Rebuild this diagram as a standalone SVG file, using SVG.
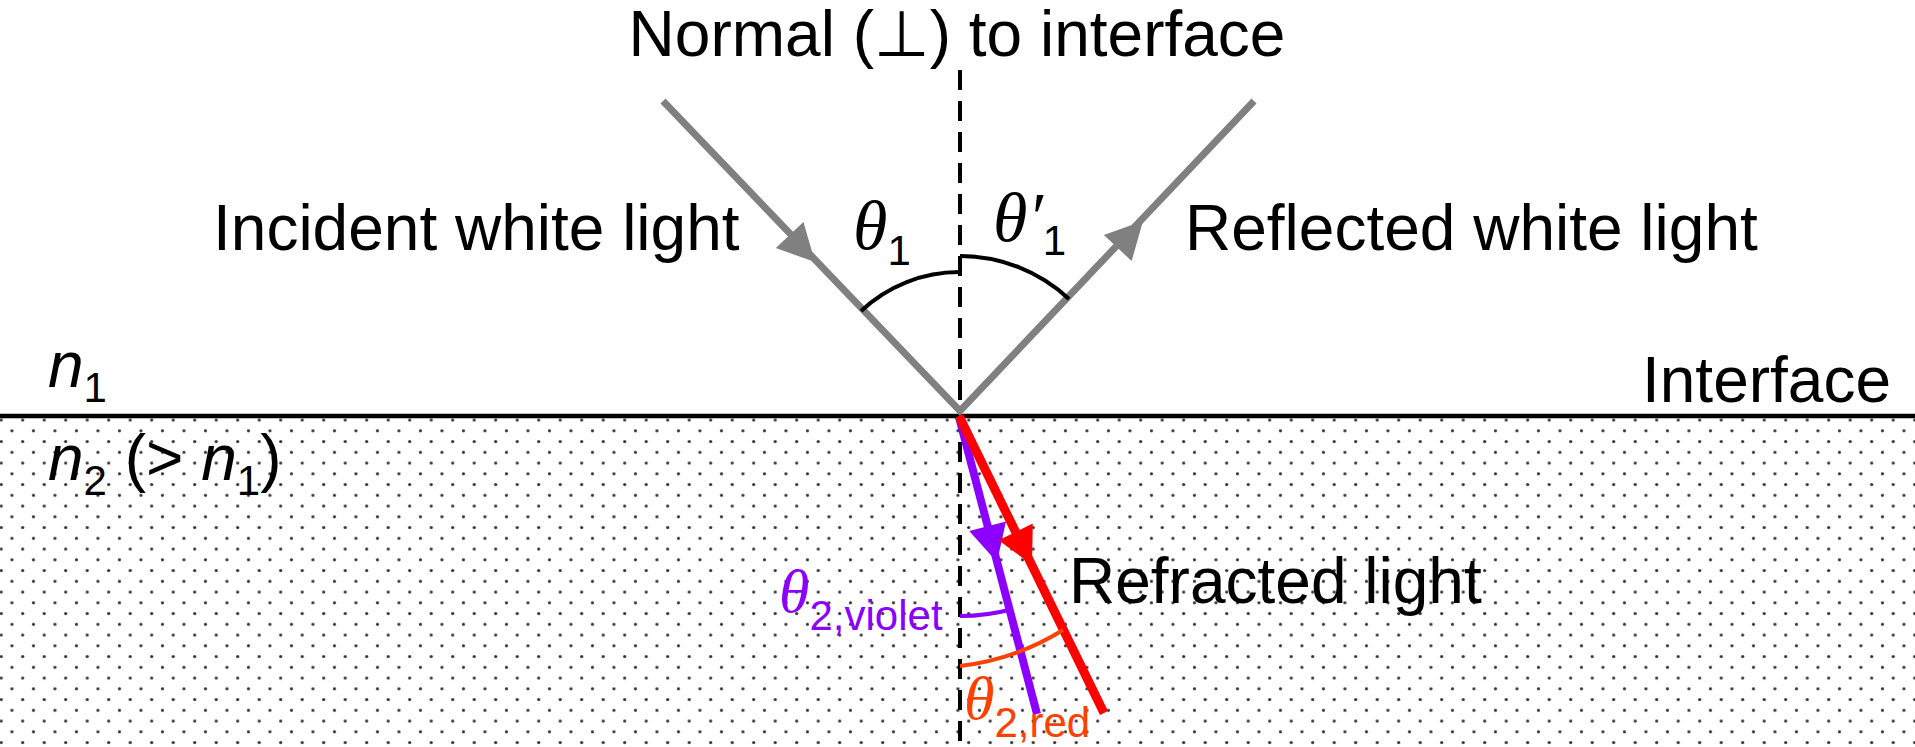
<svg xmlns="http://www.w3.org/2000/svg" width="1915" height="747" viewBox="0 0 1915 747">
<style>
.lbl{font-family:"Liberation Sans","DejaVu Sans",sans-serif;font-size:64px;fill:#000}
.it{font-style:italic}
.th{font-family:"Liberation Serif","DejaVu Serif",serif;font-style:italic}
.sub{font-size:42px}
.ray{fill:none;stroke-linecap:butt}
</style>
<defs>
<pattern id="dots" patternUnits="userSpaceOnUse" x="-4.2" y="414.6" width="21.5" height="21.5">
<circle cx="5.4" cy="5.4" r="1.6" fill="#333"/>
<circle cx="16.15" cy="16.15" r="1.6" fill="#333"/>
</pattern>
<path id="ah" d="M0,0 L-37,-19 L-37,19 Z"/>
</defs>
<rect x="0" y="0" width="1915" height="747" fill="#fff"/>
<g id="medium2">
<rect x="0" y="418" width="1915" height="329" fill="url(#dots)"/>
</g>
<g id="interface">
<line x1="0" y1="416" x2="1915" y2="416" stroke="#000" stroke-width="4.5"/>
</g>
<g id="normal">
<line x1="960" y1="70" x2="960" y2="747" stroke="#000" stroke-width="4" stroke-dasharray="20 11"/>
</g>
<g id="connectors">
<polyline class="ray" points="663,101 960,411 1254,101" stroke="#808080" stroke-width="7" stroke-linejoin="miter"/>
<use href="#ah" fill="#808080" transform="translate(815,262) rotate(46.7)"/>
<use href="#ah" fill="#808080" transform="translate(1143,221) rotate(-47)"/>
<line class="ray" x1="959" y1="417" x2="1037" y2="714" stroke="#8B00FF" stroke-width="8"/>
<use href="#ah" fill="#8B00FF" transform="translate(997,562) rotate(75.3)"/>
<line class="ray" x1="959" y1="416" x2="1104" y2="713" stroke="#FF0000" stroke-width="9"/>
<use href="#ah" fill="#FF0000" transform="translate(1032,565) rotate(63.9)"/>
</g>
<g id="angles">
<path d="M861,311 A144,144 0 0 1 960,272" fill="none" stroke="#000" stroke-width="4"/>
<path d="M960,256 A160,160 0 0 1 1069,299" fill="none" stroke="#000" stroke-width="4"/>
<path d="M960,616 A200,200 0 0 0 1011,609.5" fill="none" stroke="#8B00FF" stroke-width="4"/>
<path d="M960,666 A250,250 0 0 0 1063,630" fill="none" stroke="#FF4000" stroke-width="4"/>
</g>
<g id="title">
<text class="lbl" x="957" y="56" text-anchor="middle">Normal (⊥) to interface</text>
</g>
<g id="incident-label">
<text class="lbl" x="213" y="250">Incident white light</text>
</g>
<g id="reflected-label">
<text class="lbl" x="1185" y="250">Reflected white light</text>
</g>
<g id="refracted-label">
<text class="lbl" x="1069" y="603">Refracted light</text>
</g>
<g id="interface-label">
<text class="lbl" x="1891" y="402" text-anchor="end">Interface</text>
</g>
<g id="n1-label">
<text class="lbl" x="48" y="387"><tspan class="it">n</tspan><tspan class="sub" dy="15">1</tspan></text>
</g>
<g id="n2-label">
<text class="lbl" x="48" y="480"><tspan class="it">n</tspan><tspan class="sub" dy="15">2</tspan><tspan dy="-15"> (&gt; </tspan><tspan class="it">n</tspan><tspan class="sub" dy="15">1</tspan><tspan dy="-15">)</tspan></text>
</g>
<g id="theta1-label">
<text class="lbl" x="853" y="249"><tspan class="th" font-size="70">θ</tspan><tspan class="sub" dy="16">1</tspan></text>
</g>
<g id="theta1p-label">
<text class="lbl" x="993" y="241"><tspan class="th" font-size="70">θ′</tspan><tspan class="sub" dy="14">1</tspan></text>
</g>
<g id="theta2v-label">
<text class="lbl" x="779" y="612" style="fill:#8B00FF"><tspan class="th" font-size="62">θ</tspan><tspan class="sub" dy="18">2,violet</tspan></text>
</g>
<g id="theta2r-label">
<text class="lbl" x="964" y="719" style="fill:#FF4000"><tspan class="th" font-size="62">θ</tspan><tspan class="sub" font-size="41" dy="18">2,red</tspan></text>
</g>
</svg>
